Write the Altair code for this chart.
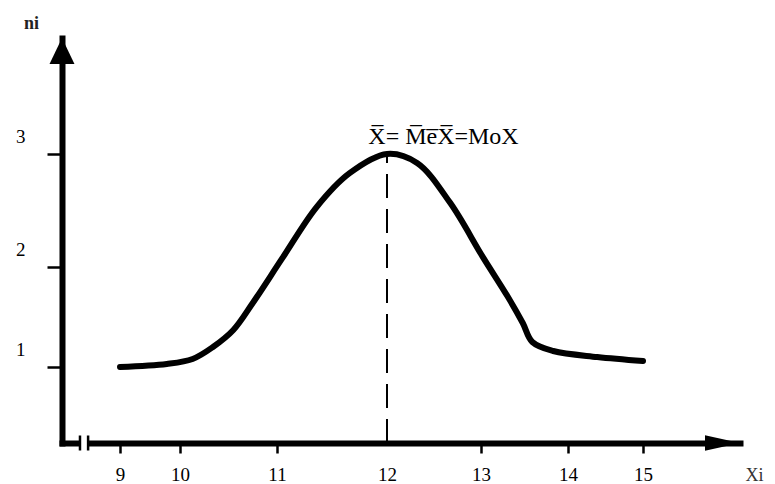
import altair as alt
import pandas as pd

# Curve (Xi, ni)
curve_x = [9.0, 9.78, 10.13, 10.34, 10.55, 10.75, 11.05, 11.36, 11.66, 12.0,
           12.32, 12.67, 13.02, 13.31, 13.48, 13.59, 13.83, 14.39, 15.0]
curve_y = [1.0, 1.03, 1.08, 1.20, 1.37, 1.64, 2.08, 2.53, 2.83, 3.0,
           2.92, 2.57, 2.09, 1.70, 1.44, 1.25, 1.16, 1.10, 1.06]

x_ticks = [9, 10, 11, 12, 13, 14, 15]
y_ticks = [1, 2, 3]
mode_x = 12
mode_y = 3.0
annotation = "X\u0305= M\u0305e\u0305X\u0305=MoX"

# axis extents (data units)
x_lo, x_hi = 8.0, 16.0
y_lo, y_hi = 0.24, 4.03

FONT = "Liberation Serif"

xscale = alt.Scale(domain=[x_lo] + x_ticks + [x_hi],
                   range=[0, 58, 118, 215, 325, 419, 506, 581, 678],
                   nice=False, zero=False)
yscale = alt.Scale(domain=[y_lo] + y_ticks + [y_hi],
                   range=[405, 329, 229, 116, 0],
                   nice=False, zero=False)

xaxis = alt.Axis(values=x_ticks, title="Xi", grid=False,
                 domainColor="black", domainWidth=6, domainCap="square",
                 tickColor={"condition": {"test": "datum.value == 12", "value": "transparent"},
                            "value": "black"},
                 tickWidth=2.5, tickSize=10,
                 labelFont=FONT, labelFontSize=19, labelColor="black", labelPadding=12,
                 titleFont=FONT, titleFontSize=18, titleFontWeight="normal", titleColor="#333",
                 titleX=692, titleY=37, titleAlign="center", titleBaseline="alphabetic",
                 titleAngle=0)
yaxis = alt.Axis(values=y_ticks, title="ni", grid=False,
                 domainColor="black", domainWidth=6, domainCap="square",
                 tickColor="black", tickWidth=2.5, tickSize=15,
                 labelFont=FONT, labelFontSize=19, labelColor="black",
                 labelPadding=22, labelOffset=-18,
                 titleFont=FONT, titleFontSize=18, titleFontWeight="bold", titleColor="#222",
                 titleX=-31, titleY=-10, titleAlign="center", titleBaseline="alphabetic",
                 titleAngle=0)


def X(f="x"):
    return alt.X(f, type="quantitative", scale=xscale, axis=xaxis)


def Y(f="y"):
    return alt.Y(f, type="quantitative", scale=yscale, axis=yaxis)


df_curve = pd.DataFrame({"x": curve_x, "y": curve_y})
df_mode = pd.DataFrame({"x": [mode_x], "y": [y_lo], "y2": [mode_y]})
df_text = pd.DataFrame({"x": [11.83], "y": [3.09], "t": [annotation]})
df_gap = pd.DataFrame({"x": [8.325], "x2": [8.435], "y": [0.19], "y2": [0.29]})
df_breakticks = pd.DataFrame({"x": [8.31, 8.45], "y": [0.165, 0.165], "y2": [0.315, 0.315]})
df_yarrow = pd.DataFrame({"x": [x_lo], "y": [y_hi]})
df_xarrow = pd.DataFrame({"x": [x_hi], "y": [y_lo]})

curve = alt.Chart(df_curve).mark_line(color="black", strokeWidth=6,
                                      interpolate="catmull-rom", strokeCap="round").encode(x=X(), y=Y())
mode_rule = alt.Chart(df_mode).mark_rule(color="black", strokeWidth=2,
                                         strokeDash=[24, 11]).encode(x=X(), y=Y(), y2="y2:Q")
text = alt.Chart(df_text).mark_text(font=FONT, fontSize=24, align="left",
                                    baseline="alphabetic", color="black").encode(x=X(), y=Y(), text="t:N")
gap = alt.Chart(df_gap).mark_rect(color="white").encode(x=X(), x2="x2:Q", y=Y(), y2="y2:Q")
bticks = alt.Chart(df_breakticks).mark_rule(color="black", strokeWidth=2.5).encode(x=X(), y=Y(), y2="y2:Q")
yarrow = alt.Chart(df_yarrow).mark_point(shape="M0,0L-0.48,1L0.48,1Z", size=2704, filled=True,
                                         color="black", opacity=1).encode(x=X(), y=Y())
xarrow = alt.Chart(df_xarrow).mark_point(shape="M0,0L-1,-0.22L-1,0.22Z", size=4900, filled=True,
                                         color="black", opacity=1).encode(x=X(), y=Y())

chart = alt.layer(gap, bticks, mode_rule, curve, text, yarrow, xarrow).properties(
    width=678, height=405,
    autosize=alt.AutoSizeParams(type="none"),
    padding={"left": 54, "top": 30, "right": 25, "bottom": 44},
    background="white",
).configure_view(stroke=None)

chart.save("out.html", embed_options={"renderer": "svg", "actions": False})
